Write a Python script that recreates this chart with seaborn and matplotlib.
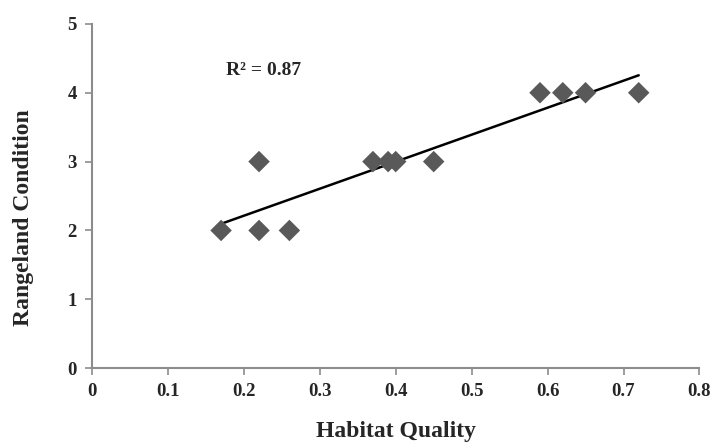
import numpy as np
import pandas as pd
import matplotlib
matplotlib.use("Agg")
import matplotlib.pyplot as plt
import seaborn as sns

# data
habitat_quality = [0.17, 0.22, 0.22, 0.26, 0.37, 0.39, 0.40, 0.45, 0.59, 0.62, 0.65, 0.72]
rangeland_condition = [2, 3, 2, 2, 3, 3, 3, 3, 4, 4, 4, 4]
r2_label = "R\u00b2 = 0.87"
x_ticks = [0, 0.1, 0.2, 0.3, 0.4, 0.5, 0.6, 0.7, 0.8]
x_tick_labels = ["0", "0.1", "0.2", "0.3", "0.4", "0.5", "0.6", "0.7", "0.8"]
y_ticks = [0, 1, 2, 3, 4, 5]

df = pd.DataFrame({"Habitat Quality": habitat_quality,
                   "Rangeland Condition": rangeland_condition})

sns.set_style("white")
plt.rcParams['font.family'] = ['Liberation Serif', 'DejaVu Serif']
plt.rcParams['font.weight'] = 'bold'

fig = plt.figure(figsize=(7.13, 4.42), dpi=100)
ax = fig.add_axes([0.129, 0.167, 0.852, 0.779])

# trend line (linear fit over data range)
sns.regplot(data=df, x="Habitat Quality", y="Rangeland Condition", ax=ax,
            scatter=False, ci=None, truncate=True,
            line_kws={"color": "black", "linewidth": 1.8, "zorder": 2})

sns.scatterplot(data=df, x="Habitat Quality", y="Rangeland Condition", ax=ax,
                marker="D", s=120, color="#595959", edgecolor="none", zorder=3)

ax.text(0.176, 4.33, r2_label, fontsize=14, fontweight="bold", ha="left", va="center")

ax.set_xlim(0, 0.8)
ax.set_ylim(0, 5)
ax.set_xticks(x_ticks)
ax.set_xticklabels(x_tick_labels)
ax.set_yticks(y_ticks)

for side in ["top", "right"]:
    ax.spines[side].set_visible(False)
for side in ["left", "bottom"]:
    ax.spines[side].set_color("#8c8c8c")
    ax.spines[side].set_linewidth(1.5)

ax.tick_params(axis="both", which="both", direction="out", length=5, width=1.2,
               color="#8c8c8c", labelsize=13.5, pad=6, bottom=True, left=True)
for lab in ax.get_xticklabels() + ax.get_yticklabels():
    lab.set_fontweight("bold")

ax.set_xlabel("Habitat Quality", fontsize=17, fontweight="bold", va="center")
ax.set_ylabel("Rangeland Condition", fontsize=17, fontweight="bold", va="center")
ax.xaxis.set_label_coords(0.5, -0.183)
ax.yaxis.set_label_coords(-0.112, 0.436)

fig.savefig("out.png", dpi=100)
plt.close(fig)
